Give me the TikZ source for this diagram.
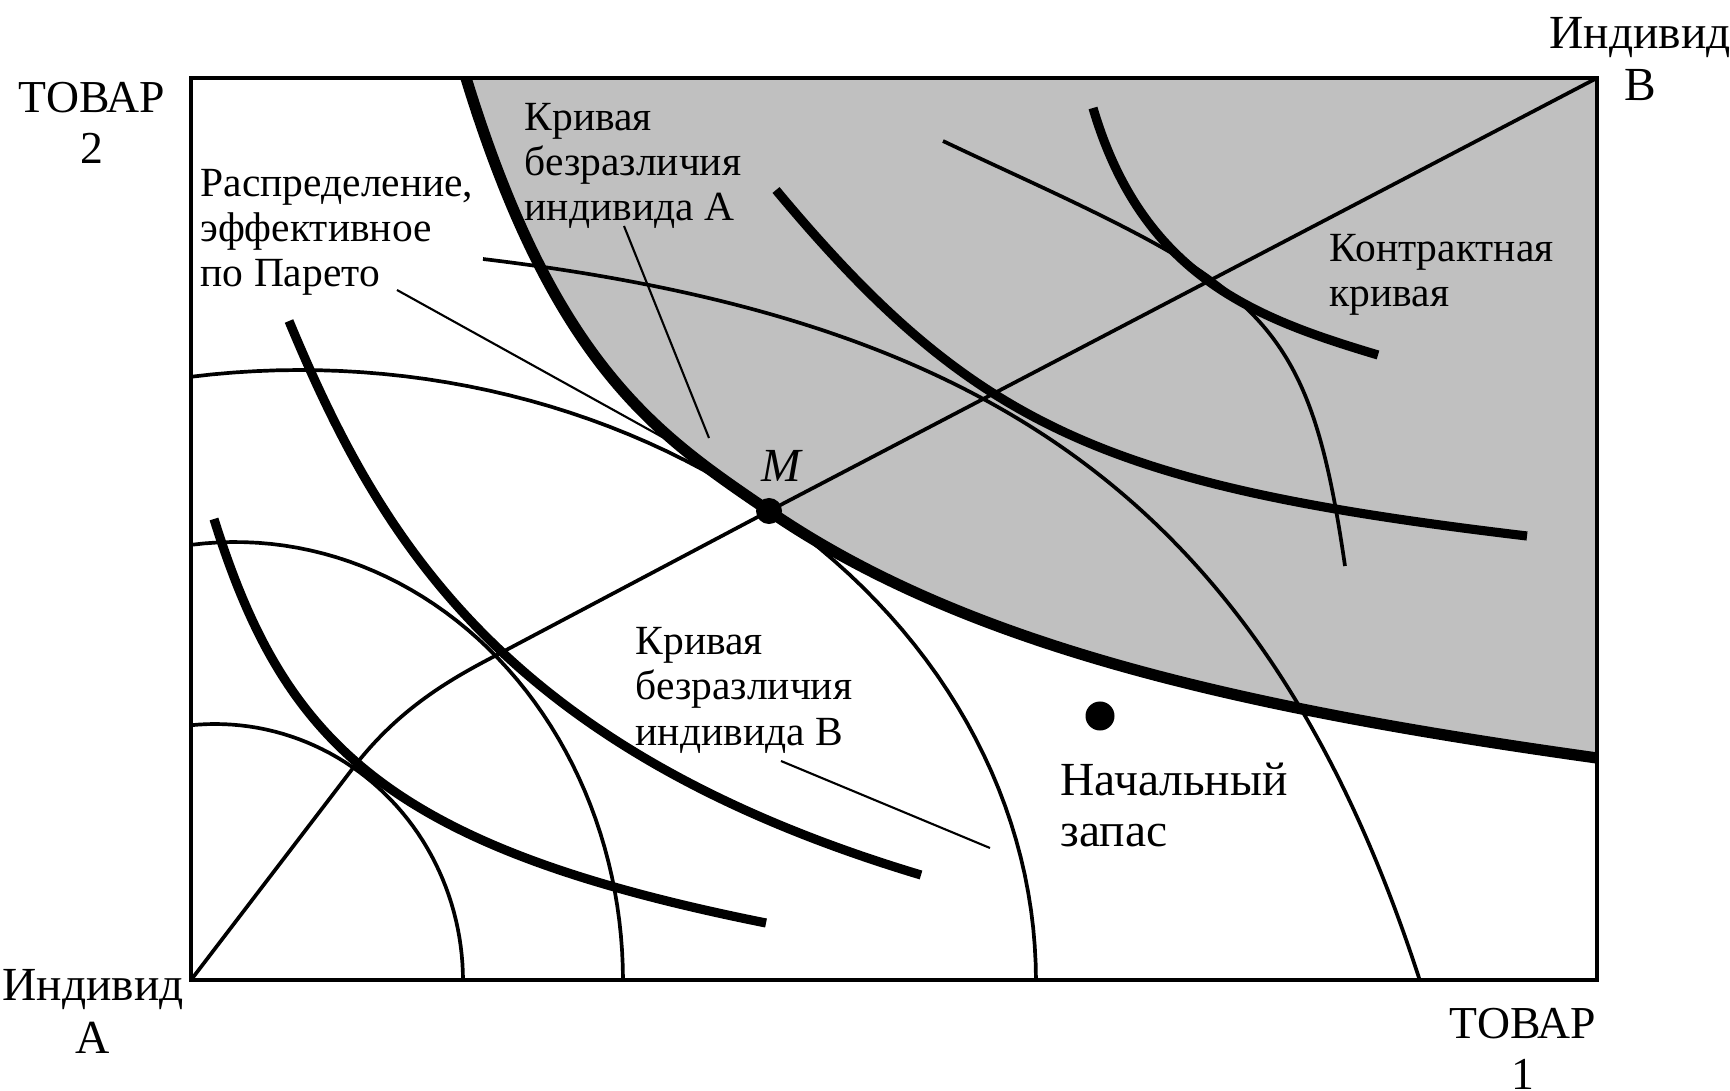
\documentclass[tikz,border=0pt]{standalone}
\usepackage{fontspec}
\setmainfont{Liberation Serif}
\usetikzlibrary{positioning}
\definecolor{paretogray}{RGB}{192,192,192}

\begin{document}
\begin{tikzpicture}[x=0.01cm, y=-0.01cm,
  frame/.style={line width=1pt},
  thickA/.style={line width=2.6pt},
  thickM/.style={line width=3.2pt},
  thinB/.style={line width=1.05pt},
  leader/.style={line width=0.6pt},
  lbl/.style={inner sep=0pt, align=left, anchor=base west, font=\fontsize{11.8}{12.8}\selectfont},
  ax/.style={inner sep=0pt, align=center, anchor=base, font=\fontsize{13.5}{14.8}\selectfont},
  dot/.style={circle, fill, inner sep=0pt, minimum size=0.26cm}
]
\useasboundingbox (0,0) rectangle (1730,1091);

\coordinate (oA) at (191,980);
\coordinate (oB) at (1597,78);
\coordinate (M0) at (769,511);

% shaded region above A's curve through M
\begin{scope}
  \clip (191,78) rectangle (1597,980);
  \draw[thickM, fill=paretogray] (466,0) -- (466,78)
    .. controls (555,368) and (659,436) .. (M0)
    .. controls (969,648) and (1247,709) .. (1597,758)
    -- (1700,758) -- (1700,0) -- cycle;
\end{scope}

% indifference curves of individual A
\draw[thickA] (214,519) .. controls (284,743) and (386,847) .. (766,923);
\draw[thickA] (289,321) .. controls (379,537) and (501,749) .. (921,875);
\draw[thickA] (776,190) .. controls (976,430) and (1107,486) .. (1527,536);
\draw[thickA] (1093,108) .. controls (1143,278) and (1258,319) .. (1378,355);

% indifference curves of individual B
\draw[thinB] plot[domain=0:95.6, samples=50] ({215+248*cos(\x)}, {981-257*sin(\x)});
\draw[thinB] plot[domain=0:96.5, samples=50] ({235+388*cos(\x)}, {981-439*sin(\x)});
\draw[thinB] plot[domain=0:98.5, samples=60] ({300+736*cos(\x)}, {981-611*sin(\x)});
\draw[thinB] (483,259) .. controls (983,319) and (1263,495) .. (1420,981);
\draw[thinB] (943,141) .. controls (1033,184) and (1153,235) .. (1213,280)
  .. controls (1296,342) and (1322,408) .. (1345,566);

% points
\node[dot] (M) at (M0) {};
\node[dot, minimum size=0.29cm] (E) at (1100,716) {};

% contract curve
\draw[thinB] (oA) -- (350,772) .. controls (395,712) and (445,682) .. (493,657) -- (M.center) -- (oB);

% labels
\node[lbl] (pareto) at (200,287) {Распределение,\\эффективное\\по Парето};
\node[lbl] (icA) at (524,221) {Кривая\\безразличия\\индивида А};
\node[lbl] (contract) at (1329,307) {Контрактная\\кривая};
\node[lbl] (icB) at (635,745) {Кривая\\безразличия\\индивида В};
\node[lbl, font=\fontsize{13.5}{14.3}\selectfont] (endow) at (1060,846) {Начальный\\запас};
\node[inner sep=0pt, anchor=base, font=\fontsize{13.5}{14}\selectfont\itshape] (Mlbl) at (781,481) {M};
\node[ax, font=\fontsize{13}{14.5}\selectfont] (good2) at (92,163) {ТОВАР\\2};
\node[ax, font=\fontsize{13}{14.5}\selectfont] (good1) at (1523,1089) {ТОВАР\\1};
\node[ax] (indA) at (93,1053) {Индивид\\A};
\node[ax] (indB) at (1640,101) {Индивид\\B};

% leader lines
\coordinate (parS) at (397,290);
\coordinate (parT) at (664,438);
\coordinate (icAS) at (624,226);
\coordinate (icAT) at (709,438);
\coordinate (icBS) at (781,761);
\coordinate (icBT) at (990,848);
\draw[leader] (parS) -- (parT);
\draw[leader] (icAS) -- (icAT);
\draw[leader] (icBS) -- (icBT);

\draw[frame] (191,78) rectangle (1597,980);
\end{tikzpicture}
\end{document}
